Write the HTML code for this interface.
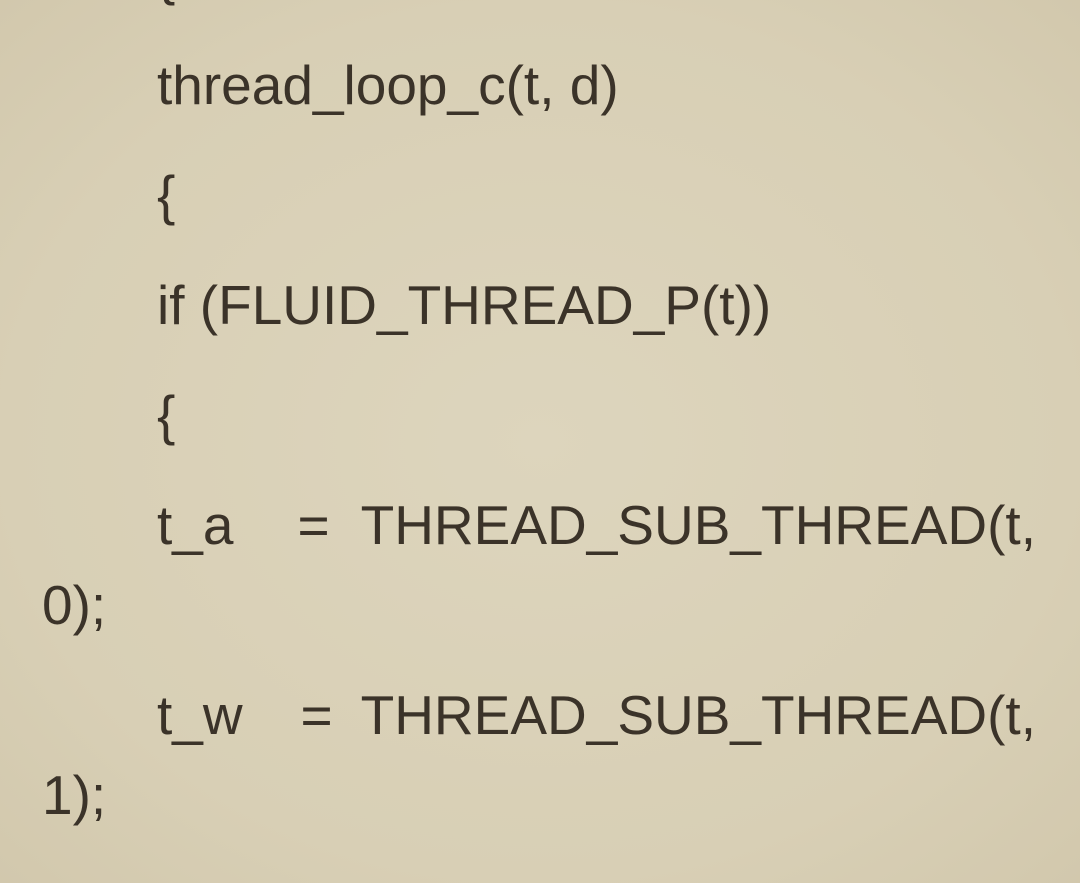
<!DOCTYPE html>
<html><head><meta charset="utf-8"><style>
html,body{margin:0;padding:0;width:1080px;height:883px;overflow:hidden;}
body{position:relative;
background:radial-gradient(ellipse at 50% 50%,#ddd5bd 0%,#d8cfb5 70%,#d2c8ad 100%);
font-family:"Liberation Sans",sans-serif;color:#3b3329;}
.wrap{position:absolute;left:42px;top:-65px;width:994px;font-size:55px;line-height:80px;}
p{margin:0 0 30px 0;text-indent:115px;text-align:justify;white-space:normal;}
</style></head><body>
<div class="wrap">
<p>{</p>
<p>thread_loop_c(t, d)</p>
<p>{</p>
<p>if (FLUID_THREAD_P(t))</p>
<p>{</p>
<p>t_a&nbsp;&nbsp;= THREAD_SUB_THREAD(t, 0);</p>
<p>t_w&nbsp;&nbsp;= THREAD_SUB_THREAD(t, 1);</p>
<p>{</p>
</div>
</body></html>
